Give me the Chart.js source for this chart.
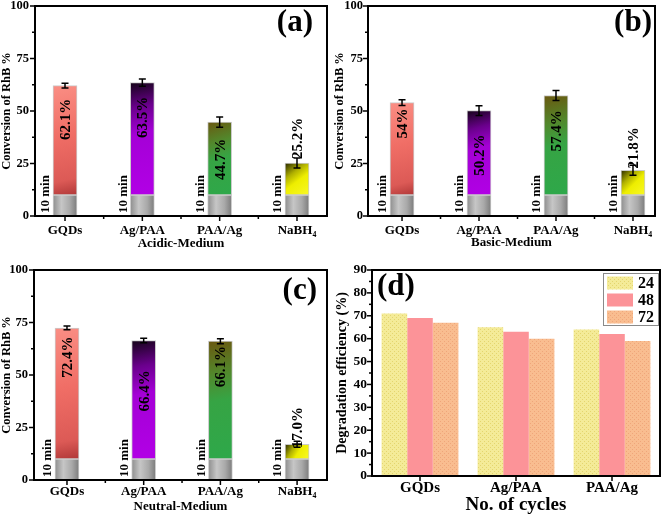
<!DOCTYPE html>
<html><head><meta charset="utf-8">
<script src="https://cdn.jsdelivr.net/npm/chart.js@4.4.1/dist/chart.umd.min.js"></script>
<style>
html,body{margin:0;padding:0;background:#fff;}
#wrap{position:relative;width:661px;height:515px;overflow:hidden;}
canvas{position:absolute;}
</style></head><body>
<div id="wrap">
<canvas id="ca" width="330" height="255" style="left:0;top:0"></canvas>
<canvas id="cb" width="331" height="255" style="left:330px;top:0"></canvas>
<canvas id="cc" width="330" height="260" style="left:0;top:255px"></canvas>
<canvas id="cd" width="331" height="260" style="left:330px;top:255px"></canvas>
</div>
<script>
// ---------------- data ----------------
const catalysts = ['GQDs', 'Ag/PAA', 'PAA/Ag', 'NaBH\u2084'];
const baseTime = [10, 10, 10, 10];            // "10 min" base segment
const acidicConv = [62.1, 63.5, 44.7, 25.2];
const acidicErr  = [1.1, 1.7, 2.4, 2.4];
const acidicText = ['62.1%', '63.5%', '44.7%', '25.2%'];
const basicConv  = [54.0, 50.2, 57.4, 21.8];
const basicErr   = [1.4, 2.3, 2.4, 2.4];
const basicText  = ['54%', '50.2%', '57.4%', '21.8%'];
const neutralConv = [72.4, 66.4, 66.1, 17.0];
const neutralErr  = [0.9, 1.1, 1.2, 1.4];
const neutralText = ['72.4%', '66.4%', '66.1%', '17.0%'];
const convTicks = [0, 25, 50, 75, 100];

const cycleCats = ['GQDs', 'Ag/PAA', 'PAA/Ag'];
const cycleSeries = ['24', '48', '72'];
const eff24 = [71, 65, 64];
const eff48 = [69, 63, 62];
const eff72 = [67, 60, 59];
const effTicks = [0, 10, 20, 30, 40, 50, 60, 70, 80, 90];

// label anchor levels (value units) for the rotated percentage texts
const acidicTextAt  = [46, 47, 27, 37];
const basicTextAt   = [44, 29, 40.5, 32.5];
const neutralTextAt = [58.5, 42.5, 54, 25];

// ---------------- styles ----------------
const SERIF = '"Liberation Serif", "Times New Roman", serif';
const BAR_W = 24;
const palettes = [
  [[0,'#fa8e84'],[0.45,'#f06e66'],[0.85,'#dc5a56'],[1,'#b03838']],
  [[0,'#140418'],[0.22,'#6a008c'],[0.45,'#a400d6'],[1,'#b200e6']],
  [[0,'#6a5810'],[0.28,'#52882c'],[0.5,'#36a444'],[1,'#2ea84a']],
  [[0,'#262600'],[0.32,'#b0b000'],[0.55,'#eeee00'],[1,'#f8f826']]
];
const grayStops = [[0,'#8e8e8e'],[0.35,'#c6c6c6'],[0.7,'#a9a9a9'],[1,'#7c7c7c']];

function colorGrad(c) {
  const ch = c.chart;
  if (c.type !== 'data' || !ch.chartArea) return '#ccc';
  const xs = ch.scales.x, ys = ch.scales.y, r = c.raw;
  const cx = xs.getPixelForValue(r.x);
  const g = ch.ctx.createLinearGradient(cx - BAR_W/2, ys.getPixelForValue(r.y[1]), cx + BAR_W/2, ys.getPixelForValue(r.y[0]));
  palettes[c.dataIndex].forEach(s => g.addColorStop(s[0], s[1]));
  return g;
}
function grayGrad(c) {
  const ch = c.chart;
  if (c.type !== 'data' || !ch.chartArea) return '#aaa';
  const cx = ch.scales.x.getPixelForValue(c.raw.x);
  const g = ch.ctx.createLinearGradient(cx - BAR_W/2, 0, cx + BAR_W/2, 0);
  grayStops.forEach(s => g.addColorStop(s[0], s[1]));
  return g;
}

// frame + tick marks
const framePlugin = {
  id: 'frame',
  afterDraw(chart, args, o) {
    const {ctx, chartArea: a, scales: {x, y}} = chart;
    ctx.save();
    ctx.strokeStyle = '#000';
    ctx.lineWidth = 1.5;
    for (let v = y.min; v <= y.max + 1e-9; v += o.yMinor) {
      const py = y.getPixelForValue(v);
      const major = Math.abs(v / o.yMajor - Math.round(v / o.yMajor)) < 1e-6;
      ctx.beginPath(); ctx.moveTo(a.left, py); ctx.lineTo(a.left - (major ? 5 : 3), py); ctx.stroke();
    }
    o.xMajor.forEach(v => {
      const px = x.getPixelForValue(v);
      ctx.beginPath(); ctx.moveTo(px, a.bottom); ctx.lineTo(px, a.bottom + 5); ctx.stroke();
    });
    (o.xMinor || []).forEach(v => {
      const px = x.getPixelForValue(v);
      ctx.beginPath(); ctx.moveTo(px, a.bottom); ctx.lineTo(px, a.bottom + 3); ctx.stroke();
    });
    ctx.lineWidth = 2;
    ctx.strokeRect(a.left, a.top, a.right - a.left, a.bottom - a.top);
    // panel letter
    ctx.fillStyle = '#000';
    ctx.font = 'bold 31px ' + SERIF;
    ctx.textBaseline = 'middle';
    if (o.letterAlign === 'left') { ctx.textAlign = 'left'; ctx.fillText(o.letter, a.left + o.letterDx, a.top + o.letterDy); }
    else { ctx.textAlign = 'right'; ctx.fillText(o.letter, a.right - o.letterDx, a.top + o.letterDy); }
    ctx.restore();
  }
};

// error bars + rotated labels
const annotPlugin = {
  id: 'annot',
  afterDatasetsDraw(chart, args, o) {
    if (!o.values) return;
    const {ctx, scales: {x, y}} = chart;
    ctx.save();
    ctx.fillStyle = '#000';
    ctx.strokeStyle = '#000';
    o.values.forEach((v, i) => {
      const px = x.getPixelForValue(i + 1);
      const t = y.getPixelForValue(v + o.err[i]), b = y.getPixelForValue(v - o.err[i]);
      ctx.lineWidth = 1.5;
      ctx.beginPath();
      ctx.moveTo(px, t); ctx.lineTo(px, b);
      ctx.moveTo(px - 3.5, t); ctx.lineTo(px + 3.5, t);
      ctx.moveTo(px - 3.5, b); ctx.lineTo(px + 3.5, b);
      ctx.stroke();
      ctx.save();
      ctx.translate(px + 1, y.getPixelForValue(o.textAt[i]));
      ctx.rotate(-Math.PI / 2);
      ctx.font = 'bold 15px ' + SERIF;
      ctx.textAlign = 'center'; ctx.textBaseline = 'middle';
      ctx.fillText(o.texts[i], 0, 0);
      ctx.restore();
      ctx.save();
      ctx.translate(px - 19, y.getPixelForValue(0) - 3);
      ctx.rotate(-Math.PI / 2);
      ctx.font = 'bold 13px ' + SERIF;
      ctx.textAlign = 'left'; ctx.textBaseline = 'middle';
      ctx.fillText('10 min', 0, 0);
      ctx.restore();
    });
    ctx.restore();
  }
};

function convChart(id, cfg) {
  const colored = cfg.values.map((v, i) => ({x: i + 1, y: [baseTime[i], v]}));
  const base = baseTime.map((v, i) => ({x: i + 1, y: [0, v]}));
  return new Chart(document.getElementById(id), {
    type: 'bar',
    data: {
      datasets: [
        {data: base, backgroundColor: grayGrad, borderColor: 'rgba(200,200,200,0.9)', borderWidth: 1, barThickness: BAR_W, grouped: false, borderSkipped: false},
        {data: colored, backgroundColor: colorGrad, borderColor: 'rgba(190,190,190,0.8)', borderWidth: 1, barThickness: BAR_W, grouped: false, borderSkipped: false}
      ]
    },
    options: {
      responsive: false, animation: false,
      layout: {padding: {top: cfg.padTop, right: cfg.padRight, left: 0, bottom: 0}},
      scales: {
        x: {
          type: 'linear', min: cfg.xMin, max: cfg.xMax, offset: false,
          afterBuildTicks: s => { s.ticks = catalysts.map((c, i) => ({value: i + 1})); },
          afterFit: s => { s.height = cfg.xHeight; s.paddingLeft = 0; s.paddingRight = 0; },
          grid: {display: false, drawTicks: false, tickLength: 0, offset: false},
          border: {display: false},
          ticks: {autoSkip: false, maxRotation: 0, padding: cfg.xTickPad, color: '#000',
                  font: {family: SERIF, weight: 'bold', size: 13, lineHeight: 1},
                  callback: v => catalysts[Math.round(v) - 1]},
          title: {display: true, text: cfg.title, color: '#000', padding: {top: 0, bottom: cfg.titlePad},
                  font: {family: SERIF, weight: 'bold', size: 13, lineHeight: 1}}
        },
        y: {
          min: 0, max: 100,
          afterBuildTicks: s => { s.ticks = convTicks.map(v => ({value: v})); },
          afterFit: s => { s.width = cfg.yWidth; s.paddingTop = 0; s.paddingBottom = 0; },
          grid: {display: false, drawTicks: false, tickLength: 0},
          border: {display: false},
          ticks: {padding: cfg.yTickPad, color: '#000', font: {family: SERIF, weight: 'bold', size: 12.5, lineHeight: 1}},
          title: {display: true, text: 'Conversion of RhB %', color: '#000', padding: {top: cfg.yTitlePad, bottom: 0},
                  font: {family: SERIF, weight: 'bold', size: 12.5, lineHeight: 1}}
        }
      },
      plugins: {
        legend: {display: false}, tooltip: {enabled: false},
        frame: {yMinor: 12.5, yMajor: 25, xMajor: [1, 2, 3, 4], xMinor: [1.5, 2.5, 3.5],
                letter: cfg.letter, letterDx: cfg.letterDx, letterDy: cfg.letterDy},
        annot: {values: cfg.values, err: cfg.err, texts: cfg.texts, textAt: cfg.textAt}
      }
    },
    plugins: [annotPlugin, framePlugin]
  });
}

convChart('ca', {values: acidicConv, err: acidicErr, texts: acidicText, textAt: acidicTextAt,
  title: 'Acidic-Medium', letter: '(a)', letterDx: 14, letterDy: 17,
  padTop: 6, padRight: 3, yWidth: 35, xHeight: 39, xMin: 0.612, xMax: 4.388,
  xTickPad: 8.5, titlePad: 4.5, yTickPad: 6, yTitlePad: 1});
convChart('cb', {values: basicConv, err: basicErr, texts: basicText, textAt: basicTextAt,
  title: 'Basic-Medium', letter: '(b)', letterDx: 3, letterDy: 17,
  padTop: 6, padRight: 6, yWidth: 38, xHeight: 39, xMin: 0.558, xMax: 4.286,
  xTickPad: 8.5, titlePad: 5.5, yTickPad: 5, yTitlePad: 4});
convChart('cc', {values: neutralConv, err: neutralErr, texts: neutralText, textAt: neutralTextAt,
  title: 'Neutral-Medium', letter: '(c)', letterDx: 10, letterDy: 21,
  padTop: 15, padRight: 3, yWidth: 34, xHeight: 35, xMin: 0.57, xMax: 4.39,
  xTickPad: 5.5, titlePad: 1.5, yTickPad: 6, yTitlePad: 1});

// ---------------- panel (d) ----------------
const dctx = document.getElementById('cd').getContext('2d');
function dotPattern(base, dot) {
  const c = document.createElement('canvas'); c.width = 4; c.height = 4;
  const g = c.getContext('2d');
  g.fillStyle = base; g.fillRect(0, 0, 4, 4);
  g.fillStyle = dot; g.fillRect(0, 0, 1, 1); g.fillRect(2, 2, 1, 1);
  return dctx.createPattern(c, 'repeat');
}
const seriesFills = [dotPattern('#f4eb98', '#e4d56e'), '#fc9398', dotPattern('#f9bd90', '#efa67a')];

const legendPlugin = {
  id: 'boxlegend',
  afterDraw(chart) {
    const {ctx, chartArea: a} = chart;
    const L = a.right - 57, T = a.top + 3, W = 55, H = 52;
    ctx.save();
    ctx.strokeStyle = '#8a8a8a'; ctx.lineWidth = 1;
    ctx.strokeRect(L + 0.5, T + 0.5, W, H);
    chart.data.datasets.forEach((ds, i) => {
      const cy = T + 10 + i * 17;
      ctx.fillStyle = ds.backgroundColor;
      ctx.fillRect(L + 4, cy - 6.5, 26, 13);
      ctx.fillStyle = '#000';
      ctx.font = 'bold 16px ' + SERIF;
      ctx.textAlign = 'right'; ctx.textBaseline = 'middle';
      ctx.fillText(ds.label, L + W - 4, cy + 1);
    });
    ctx.restore();
  }
};

new Chart(document.getElementById('cd'), {
  type: 'bar',
  data: {
    labels: cycleCats,
    datasets: [
      {label: cycleSeries[0], data: eff24, backgroundColor: seriesFills[0]},
      {label: cycleSeries[1], data: eff48, backgroundColor: seriesFills[1]},
      {label: cycleSeries[2], data: eff72, backgroundColor: seriesFills[2]}
    ]
  },
  options: {
    responsive: false, animation: false,
    datasets: {bar: {categoryPercentage: 0.8, barPercentage: 1}},
    layout: {padding: {top: 15, right: 1, left: 0, bottom: 0}},
    scales: {
      x: {
        afterFit: s => { s.height = 39; s.paddingLeft = 0; s.paddingRight = 0; },
        grid: {display: false, drawTicks: false, tickLength: 0},
        border: {display: false},
        ticks: {padding: 5, color: '#000', maxRotation: 0, font: {family: SERIF, weight: 'bold', size: 15, lineHeight: 1}},
        title: {display: true, text: 'No. of cycles', color: '#000', padding: {top: 0, bottom: 0},
                font: {family: SERIF, weight: 'bold', size: 19, lineHeight: 1}}
      },
      y: {
        min: 0, max: 90,
        afterBuildTicks: s => { s.ticks = effTicks.map(v => ({value: v})); },
        afterFit: s => { s.width = 42; s.paddingTop = 0; s.paddingBottom = 0; },
        grid: {display: false, drawTicks: false, tickLength: 0},
        border: {display: false},
        ticks: {padding: 5, color: '#000', font: {family: SERIF, weight: 'bold', size: 13.5, lineHeight: 1}},
        title: {display: true, text: 'Degradation efficiency (%)', color: '#000', padding: {top: 5, bottom: 0},
                font: {family: SERIF, weight: 'bold', size: 14, lineHeight: 1}}
      }
    },
    plugins: {
      legend: {display: false}, tooltip: {enabled: false},
      frame: {yMinor: 5, yMajor: 10, xMajor: [0, 1, 2], xMinor: [],
              letter: '(d)', letterAlign: 'left', letterDx: 5, letterDy: 17}
    }
  },
  plugins: [framePlugin, legendPlugin]
});
</script>
</body></html>
